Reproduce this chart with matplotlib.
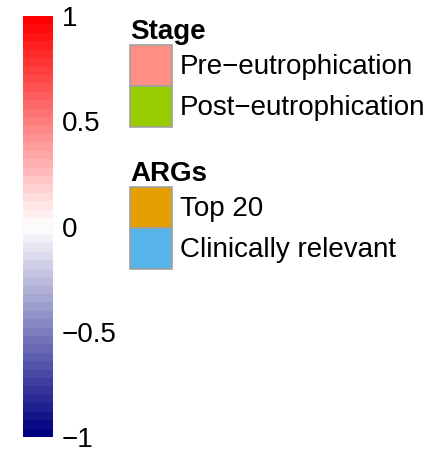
import matplotlib
matplotlib.use("Agg")
import matplotlib.pyplot as plt
import numpy as np
from matplotlib.colors import LinearSegmentedColormap, BoundaryNorm
from matplotlib.cm import ScalarMappable
from matplotlib.patches import Patch

plt.rcParams['font.family'] = ['Liberation Sans', 'DejaVu Sans']

# colour scale
cbar_colors = ["#00007F", "#FFFFFF", "#FF0000"]
cbar_ticks = [-1, -0.5, 0, 0.5, 1]
cbar_ticklabels = ["\u22121", "\u22120.5", "0", "0.5", "1"]
n_levels = 50

# legend groups
stage_labels = ["Pre\u2212eutrophication", "Post\u2212eutrophication"]
stage_colors = ["#FF8F85", "#99CC00"]
arg_labels = ["Top 20", "Clinically relevant"]
arg_colors = ["#E69F00", "#56B4E9"]

W, H = 433, 453
fig = plt.figure(figsize=(W / 100, H / 100), dpi=100)
fs = 20

cmap = LinearSegmentedColormap.from_list("cor", cbar_colors, N=n_levels)
bounds = np.linspace(-1, 1, n_levels + 1)
norm = BoundaryNorm(bounds, cmap.N)
cax = fig.add_axes([23 / W, 1 - 437 / H, 30 / W, 421 / H])
cb = fig.colorbar(ScalarMappable(norm=norm, cmap=cmap), cax=cax, ticks=cbar_ticks)
cb.outline.set_visible(False)
cb.minorticks_off()
cb.ax.set_yticklabels(cbar_ticklabels)
cb.ax.tick_params(length=0, pad=6.5, labelsize=fs)

px = fs * 100 / 72
handle_w = 42 / px
# patch height = fs*hh - 0.35*fs*(hh-0.7)
handle_h = (41 / px - 0.245) / 0.65

def add_group(title, labels, colors, top):
    handles = [Patch(facecolor=c, edgecolor="#A0A0A0", linewidth=1.2) for c in colors]
    leg = fig.legend(handles, labels, title=title, loc="upper left",
                     bbox_to_anchor=(130 / W, 1 - top / H), frameon=False,
                     fontsize=fs, title_fontproperties={"weight": "bold", "size": fs},
                     alignment="left", handlelength=handle_w, handleheight=handle_h,
                     labelspacing=0, handletextpad=8 / px, borderpad=0, borderaxespad=0)
    return leg

add_group("Stage", stage_labels, stage_colors, 19)
add_group("ARGs", arg_labels, arg_colors, 161)

fig.savefig("out.png", dpi=100)
